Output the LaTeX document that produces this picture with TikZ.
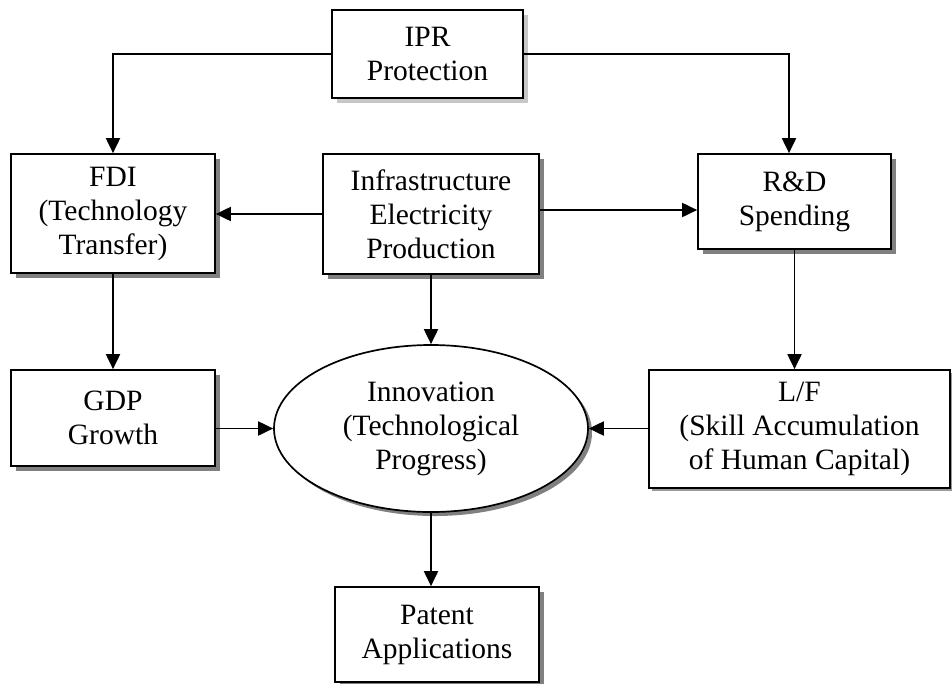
\documentclass[tikz,border=0pt]{standalone}
\usepackage{fontspec}
\setmainfont{Liberation Serif}
\usetikzlibrary{shapes.geometric,shadows,arrows.meta}
\begin{document}
\begin{tikzpicture}[x=1pt,y=-1pt,
  txt/.style={font=\fontsize{29.5}{34}\selectfont, align=center, inner sep=0pt},
  boxd/.style={txt, draw, line width=1.7pt, fill=white, rectangle,
    general shadow={fill=black!50, shadow xshift=5pt, shadow yshift=-5pt}},
  boxl/.style={txt, draw, line width=1.7pt, fill=white, rectangle,
    general shadow={fill=black!22, shadow xshift=5pt, shadow yshift=-5pt}},
  boxm/.style={txt, draw, line width=1.7pt, fill=white, rectangle,
    general shadow={fill=black!40, shadow xshift=3pt, shadow yshift=-3pt}},
  ell/.style={txt, draw, line width=1.7pt, fill=white, ellipse,
    general shadow={fill=black!50, shadow xshift=4pt, shadow yshift=-4pt}},
  arr/.style={line width=1.9pt, -{Triangle[length=15pt,width=14pt]}}
]
\useasboundingbox (0,0) rectangle (952,683);
\fill[white] (0,0) rectangle (952,683);

\node[boxl, minimum width=191pt, minimum height=88pt] (ipr) at (427.5,54) {IPR\\Protection};
\node[boxd, minimum width=204pt, minimum height=119pt] (fdi) at (113,213.5) {FDI\\(Technology\\Transfer)};
\node[boxd, minimum width=216pt, minimum height=120pt] (infra) at (431,214) {Infrastructure\\Electricity\\Production};
\node[boxd, minimum width=193pt, minimum height=95pt] (rd) at (794.5,201.5) {R\&D\\Spending};
\node[boxd, minimum width=204pt, minimum height=96pt] (gdp) at (113,418) {GDP\\Growth};
\node[ell, minimum width=314pt, minimum height=167pt] (inn) at (431,428.5) {Innovation\\(Technological\\Progress)};
\node[boxm, minimum width=301pt, minimum height=118pt] (lf) at (799.5,429) {L/F\\(Skill Accumulation\\of Human Capital)};
\node[boxd, minimum width=204pt, minimum height=95pt] (pat) at (437,634.5) {Patent\\Applications};

\coordinate (rdin) at ([xshift=-5.5pt]rd.north);
\coordinate (ie) at ([yshift=4pt]infra.east);

\draw[arr] (ipr.west) -| (fdi.north);
\draw[arr] (ipr.east) -| (rdin);
\draw[arr] (infra.west) -- (infra.west -| fdi.east);
\draw[arr] (ie) -- (ie -| rd.west);
\draw[arr] (infra.south) -- (inn.north);
\draw[arr] (fdi.south) -- (gdp.north);
\draw[arr] (rd.south) -- (rd.south |- lf.north);
\draw[arr] (gdp.east |- inn.west) -- (inn.west);
\draw[arr] (lf.west |- inn.east) -- (inn.east);
\draw[arr] (inn.south) -- (inn.south |- pat.north);
\end{tikzpicture}
\end{document}
